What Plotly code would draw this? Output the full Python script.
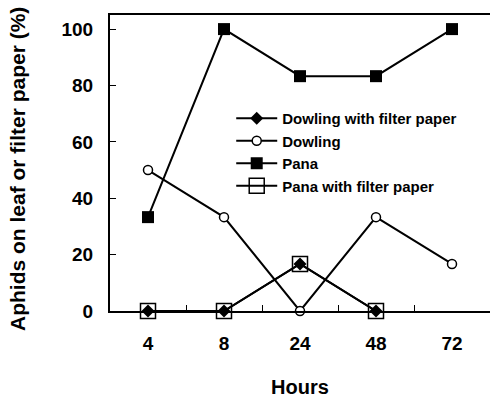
import plotly.graph_objects as go

hours = ["4", "8", "24", "48", "72"]
dowling_filter = [0, 0, 16.7, 0]
dowling = [50, 33.3, 0, 33.3, 16.7]
pana = [33.3, 100, 83.3, 83.3, 100]
pana_filter = [0, 0, 16.7, 0]

y_ticks = [0, 20, 40, 60, 80, 100]
y_title = "Aphids on leaf or filter paper (%)"
x_title = "Hours"

fig = go.Figure()
fig.add_trace(go.Scatter(
    x=hours[:4], y=dowling_filter, name="Dowling with filter paper", mode="lines+markers",
    line=dict(color="black", width=2),
    marker=dict(symbol="diamond", size=10, color="black"), cliponaxis=False, legendrank=1))
fig.add_trace(go.Scatter(
    x=hours, y=dowling, name="Dowling", mode="lines+markers",
    line=dict(color="black", width=2),
    marker=dict(symbol="circle", size=9, color="white", line=dict(color="black", width=1.5)),
    cliponaxis=False, legendrank=2))
fig.add_trace(go.Scatter(
    x=hours, y=pana, name="Pana", mode="lines+markers",
    line=dict(color="black", width=2),
    marker=dict(symbol="square", size=12, color="black"), cliponaxis=False, legendrank=3))
fig.add_trace(go.Scatter(
    x=hours[:4], y=pana_filter, name="Pana with filter paper", mode="lines+markers",
    line=dict(color="black", width=2),
    marker=dict(symbol="square-open", size=15, color="black", line=dict(width=1.5)),
    cliponaxis=False, legendrank=4))

font_family = "Liberation Sans, Arial, sans-serif"
fig.update_layout(
    width=490, height=400,
    margin=dict(l=110, r=0, t=15, b=89),
    paper_bgcolor="white", plot_bgcolor="white",
    font=dict(family=font_family, color="black"),
    showlegend=True,
    legend=dict(x=0.319, y=0.706, xanchor="left", yanchor="top",
                bgcolor="rgba(0,0,0,0)", font=dict(size=15, weight="bold"),
                tracegroupgap=0, itemwidth=41),
    xaxis=dict(
        type="category", categoryorder="array", categoryarray=hours,
        range=[-0.5, 4.5], autorange=False,
        showline=True, linecolor="black", linewidth=2, mirror=True,
        ticks="inside", tickson="boundaries", ticklen=6, tickcolor="black", tickwidth=1,
        showgrid=False, zeroline=False,
        tickfont=dict(size=19, weight="bold"), ticklabelstandoff=14,
        title=dict(text=x_title, font=dict(size=20, weight="bold"), standoff=27),
    ),
    yaxis=dict(
        range=[0, 105], tickvals=y_ticks,
        showline=True, linecolor="black", linewidth=2,
        ticks="inside", ticklen=6, tickcolor="black", tickwidth=1,
        showgrid=False, zeroline=False,
        tickfont=dict(size=19, weight="bold"), ticklabelstandoff=11,
    ),
    annotations=[dict(
        text=y_title, textangle=-90, showarrow=False,
        xref="paper", yref="paper", x=-0.2447, y=0.4797,
        xanchor="center", yanchor="middle",
        font=dict(size=21, weight="bold"),
    )],
)

fig.write_html("out.html")
